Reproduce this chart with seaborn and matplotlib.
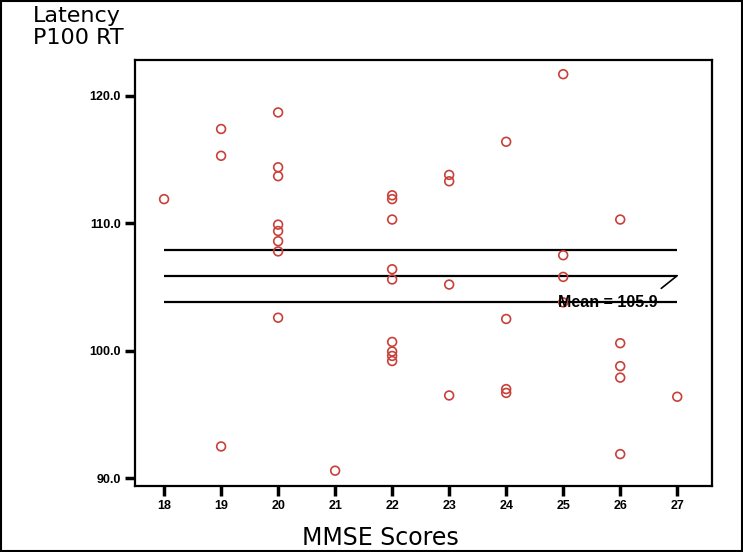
import pandas as pd
import seaborn as sns
import matplotlib.pyplot as plt
from matplotlib.patches import Rectangle

# MMSE score and latency per subject
mmse = [18,
        19, 19, 19,
        20, 20, 20, 20, 20, 20, 20, 20,
        21,
        22, 22, 22, 22, 22, 22, 22, 22, 22,
        23, 23, 23, 23,
        24, 24, 24, 24,
        25, 25, 25, 25,
        26, 26, 26, 26, 26,
        27]
latency = [111.9,
           117.4, 115.3, 92.5,
           118.7, 114.4, 113.7, 109.9, 109.4, 108.6, 107.8, 102.6,
           90.6,
           112.2, 111.9, 110.3, 106.4, 105.6, 100.7, 99.95, 99.6, 99.2,
           113.8, 113.3, 105.2, 96.5,
           116.4, 102.5, 97.0, 96.7,
           121.7, 107.5, 105.8, 103.8,
           110.3, 100.6, 98.8, 97.9, 91.9,
           96.4]

mean_value = 105.9
band_values = [107.9, 103.8]
x_ticks = [18, 19, 20, 21, 22, 23, 24, 25, 26, 27]
y_ticks = [90.0, 100.0, 110.0, 120.0]

df = pd.DataFrame({"MMSE": mmse, "Latency": latency})

sns.set_style("white")
plt.rcParams['font.family'] = ['DejaVu Sans']
plt.rcParams['text.color'] = 'black'
plt.rcParams['xtick.color'] = 'black'
plt.rcParams['ytick.color'] = 'black'

fig = plt.figure(figsize=(7.43, 5.52), dpi=100)
ax = fig.add_axes([0.1817, 0.1196, 0.7766, 0.7714])

sns.scatterplot(data=df, x="MMSE", y="Latency", ax=ax, marker="o",
                facecolors="none", edgecolor="#c8403a", linewidth=1.2,
                s=40, zorder=3)

x0, x1 = x_ticks[0], x_ticks[-1]
ax.hlines([mean_value] + band_values, x0, x1, color="black", lw=1.6, zorder=2)
ax.plot([x1, x1 - 0.28], [mean_value, mean_value - 1.0], color="black", lw=1.2)
ax.text(x1 - 0.34, band_values[1], "Mean = %.1f" % mean_value, ha="right",
        va="center", fontsize=11.5, fontweight="bold", family="Liberation Sans",
        color="black", zorder=4)

ax.set_xlim(17.49, 27.61)
ax.set_ylim(89.4, 122.8)
ax.set_xticks(x_ticks)
ax.set_yticks(y_ticks)
ax.set_yticklabels(["%.1f" % v for v in y_ticks])
ax.tick_params(direction="out", length=7, width=2.5, colors="black",
               labelsize=9, pad=3, left=True, bottom=True)
for lab in ax.get_xticklabels() + ax.get_yticklabels():
    lab.set_fontweight("bold")
    lab.set_family("Liberation Sans")
for sp in ax.spines.values():
    sp.set_color("black")
    sp.set_linewidth(1.6)
ax.set_xlabel("")
ax.set_ylabel("")

fig.text(0.044, 0.99, "Latency\nP100 RT", ha="left", va="top",
         fontsize=16, linespacing=1.15, color="black")
fig.text(0.512, 0.004, "MMSE Scores", ha="center", va="bottom", fontsize=17,
         color="black")

fig.add_artist(Rectangle((0.001, 0.001), 0.998, 0.998, transform=fig.transFigure,
                         fill=False, edgecolor="black", lw=1.5))

fig.savefig("out.png", dpi=100)
